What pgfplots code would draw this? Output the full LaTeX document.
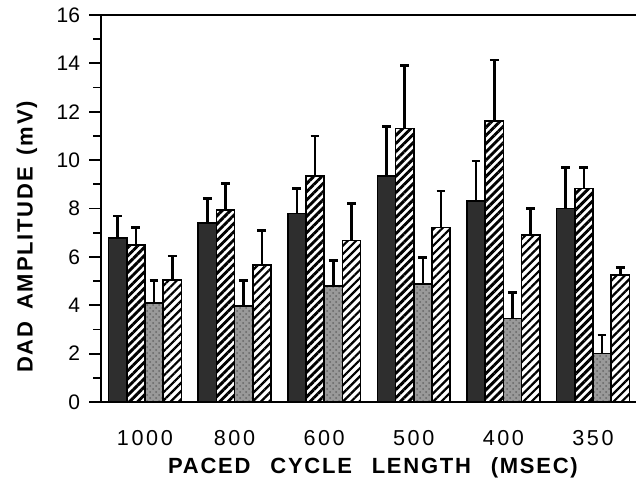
\documentclass[border=0pt]{standalone}
\usepackage{fontspec}
\setmainfont{Liberation Sans}
\newfontfamily\spaced[LetterSpace=12]{Liberation Sans}
\newfontfamily\boldspaced[LetterSpace=8]{Liberation Sans Bold}
\usepackage{pgfplots}
\pgfplotsset{compat=1.18}
\usetikzlibrary{patterns,patterns.meta}
\pgfplotstableread{
x y e
0 6.77 0.92
1 7.39 1.03
2 7.80 1.03
3 9.34 2.04
4 8.32 1.64
5 8.00 1.69
}\seriesA
\pgfplotstableread{
x y e
0 6.49 0.71
1 7.94 1.10
2 9.34 1.66
3 11.31 2.59
4 11.63 2.51
5 8.83 0.86
}\seriesB
\pgfplotstableread{
x y e
0 4.10 0.94
1 3.97 1.07
2 4.80 1.04
3 4.88 1.10
4 3.46 1.06
5 2.01 0.76
}\seriesC
\pgfplotstableread{
x y e
0 5.04 1.00
1 5.66 1.42
2 6.67 1.54
3 7.22 1.50
4 6.90 1.10
5 5.25 0.32
}\seriesD
\begin{document}
\begin{tikzpicture}
\path[use as bounding box] (0pt,0pt) rectangle (318pt,-241pt);
\begin{axis}[
  at={(50.5pt,-201pt)}, anchor=south west,
  scale only axis, width=267.5pt, height=193.5pt,
  xmin=-0.49, xmax=5.48, ymin=0, ymax=16,
  axis x line*=bottom, axis y line*=left,
  axis line style={line width=1pt, -},
  ybar=0pt, bar width=9.1pt,
  ytick={0,2,...,16}, minor ytick={1,3,...,15},
  xtick={0,...,5},
  xticklabels={1000,800,600,500,400,350},
  extra x ticks={0.5,1.5,2.5,3.5,4.5},
  extra x tick labels={},
  extra x tick style={major tick length=4pt, tick style={line width=0.9pt}},
  major x tick style={draw=none},
  tick align=outside,
  major tick length=6pt, minor tick length=4pt,
  tick style={line width=0.9pt, black},
  /pgf/number format/assume math mode=true,
  yticklabel style={font=\fontsize{10.5}{12}\selectfont, xshift=-1pt},
  xticklabel style={font=\fontsize{10.8}{12}\spaced, yshift=-4.5pt},
  error bars/y dir=plus, error bars/y explicit,
  error bars/error bar style={line width=1.3pt, black},
  error bars/error mark options={rotate=90, mark size=2.2pt, line width=1.4pt, black},
  clip=false,
]
\addplot[draw=black, line width=0.8pt, fill=black!82] table[x=x, y=y, y error=e] {\seriesA};
\addplot[draw=black, line width=0.8pt, fill=white, postaction={pattern={Lines[angle=45,distance=2.9pt,line width=1.45pt]}}] table[x=x, y=y, y error=e] {\seriesB};
\addplot[draw=black, line width=0.8pt, fill=black!40, postaction={pattern=crosshatch dots, pattern color=black!60}] table[x=x, y=y, y error=e] {\seriesC};
\addplot[draw=black, line width=0.8pt, fill=white, postaction={pattern={Lines[angle=45,distance=2.9pt,line width=1.1pt]}}] table[x=x, y=y, y error=e] {\seriesD};
\draw[line width=1pt] (rel axis cs:0,1) -- (rel axis cs:1,1);
\draw[black!35, line width=0.5pt] (rel axis cs:1,0) -- (rel axis cs:1,1);
\end{axis}
\node[font=\fontsize{11}{13}\boldspaced, rotate=90] at (13.5pt,-118.5pt) {DAD\hspace{0.55em}AMPLITUDE\hspace{0.55em}(mV)};
\node[font=\fontsize{11}{13}\boldspaced] at (186.5pt,-234pt) {PACED\hspace{0.9em}CYCLE\hspace{0.9em}LENGTH\hspace{0.9em}(MSEC)};
\end{tikzpicture}
\end{document}
